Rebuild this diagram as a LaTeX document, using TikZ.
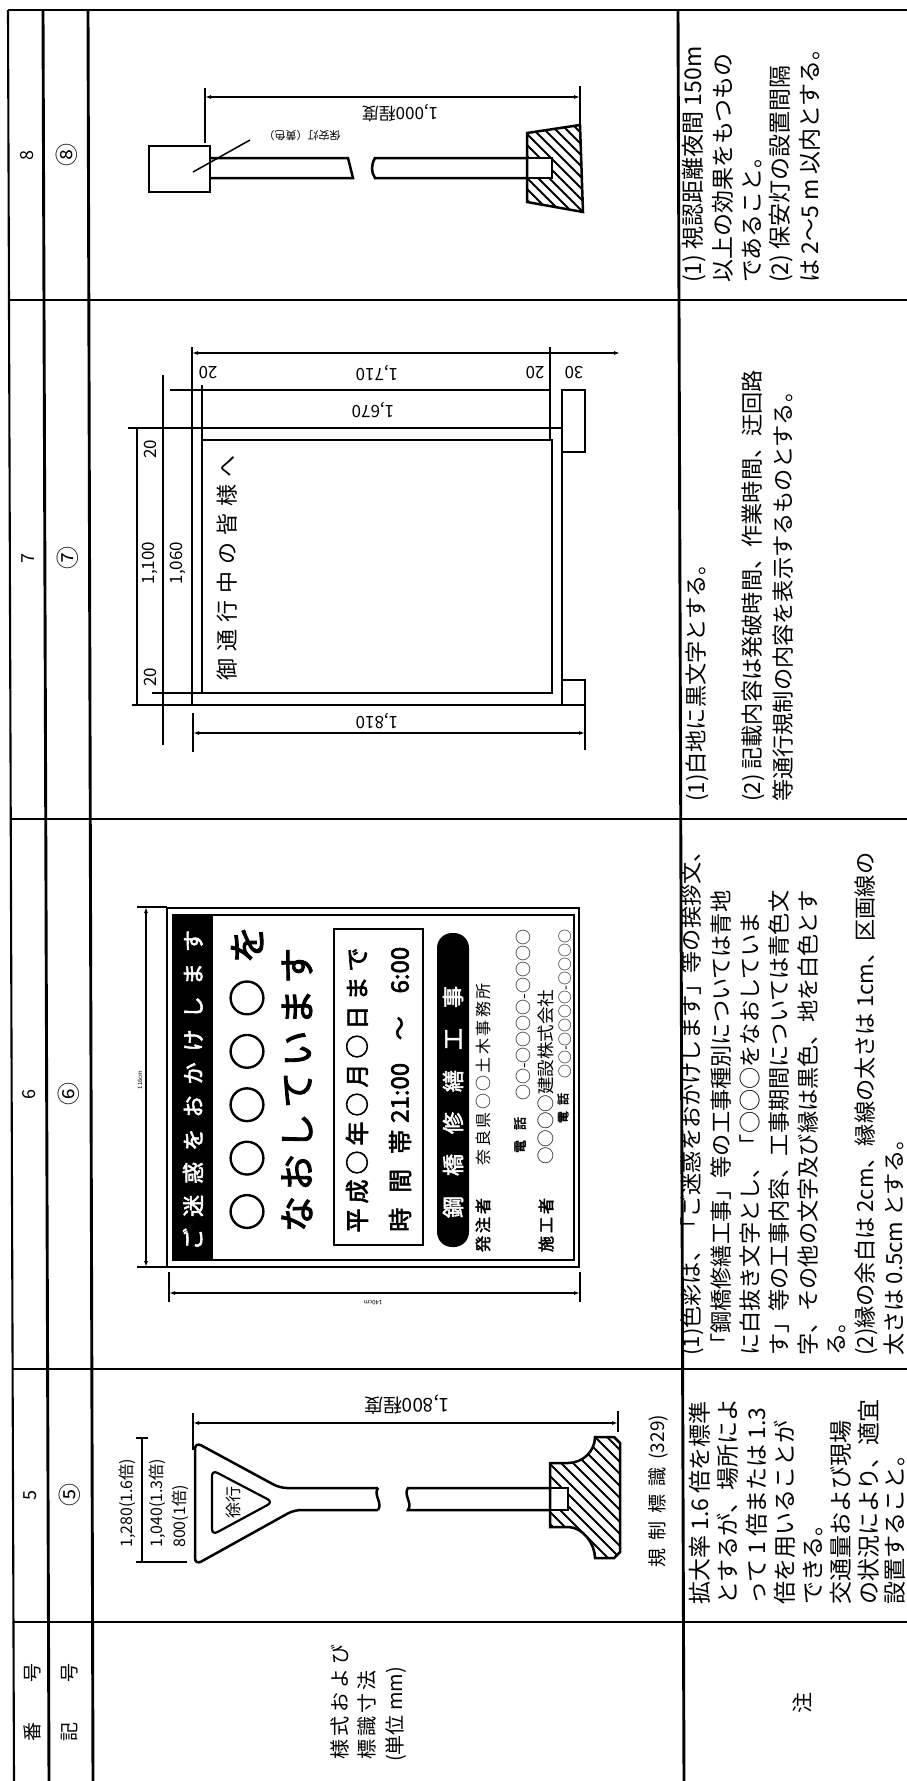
\documentclass[tikz,border=0pt]{standalone}
\usepackage{fontspec}
\setmainfont{Noto Sans CJK JP}
\newfontfamily\bj{Noto Sans CJK JP}[FakeBold=2.5]
\usetikzlibrary{arrows.meta}
\newcommand\fsz[1]{\fontsize{#1}{#1}\selectfont}
\newcommand\sprd[2]{\makebox[#1pt][s]{#2}}
\begin{document}
\begin{tikzpicture}[x=1pt,y=-1pt,
  grid/.style={line width=2.1pt},
  gridb/.style={line width=2.9pt},
  outl/.style={line width=2.5pt},
  dim/.style={line width=1.3pt},
  dimar/.style={line width=1.3pt,{Latex[length=6pt,width=4pt]}-{Latex[length=6pt,width=4pt]}},
  hatch/.style={line width=1.9pt},
  r90/.style={rotate=90,inner sep=0pt},
  r180/.style={rotate=180,inner sep=0pt},
  note/.style={rotate=90,inner sep=0pt,anchor=west,font=\fsz{23}},
  notec/.style={rotate=90,inner sep=0pt,anchor=west,font=\fsz{22.2}},
]
\useasboundingbox (0,0) rectangle (907,1781);
\clip (0,0) rectangle (907,1781);
\fill[white] (0,0) rectangle (907,1781);

% ---------------- grid ----------------
\draw[grid] (8,10) -- (907,10);
\draw[grid] (8,10) -- (14,1781);
\draw[gridb] (43,10) -- (49,1781);
\draw[gridb] (88,10) -- (93,1781);
\draw[gridb] (678,10) -- (684,1781);
\draw[grid] (9,300) -- (907,300);
\draw[grid] (10,819) -- (907,819);
\draw[grid] (12,1369) -- (907,1369);
\draw[grid] (13,1622) -- (907,1622);

% ---------------- header cells ----------------
\node[r90,font=\fsz{18}] (h8) at (27,155) {8};
\node[r90,font=\fsz{23}] (c8) at (67,155) {⑧};
\node[r90,font=\fsz{18}] (h7) at (28,558) {7};
\node[r90,font=\fsz{23}] (c7) at (68,558) {⑦};
\node[r90,font=\fsz{18}] (h6) at (29,1094) {6};
\node[r90,font=\fsz{23}] (c6) at (69,1094) {⑥};
\node[r90,font=\fsz{18}] (h5) at (30,1495) {5};
\node[r90,font=\fsz{23}] (c5) at (70,1495) {⑤};
\node[r90,font=\fsz{19}] (bango) at (32,1702) {\sprd{78}{番 号}};
\node[r90,font=\fsz{19}] (kigo) at (70,1702) {\sprd{78}{記 号}};
\node[r90,anchor=west,font=\fsz{20}] (yo1) at (340,1760) {\sprd{115}{様 式 お よ び}};
\node[r90,anchor=west,font=\fsz{20}] (yo2) at (367,1760) {\sprd{87}{標 識 寸 法}};
\node[r90,anchor=west,font=\fsz{20}] (yo3) at (396,1762) {(単位 mm)};
\node[r90,font=\fsz{21}] (chu) at (802,1703) {注};

% ---------------- notes ----------------
\node[note] (n8a) at (694,283) {(1) 視認距離夜間 150m};
\node[note] (n8b) at (723,283) {以上の効果をもつもの};
\node[note] (n8c) at (752,283) {であること。};
\node[note] (n8d) at (781,283) {(2) 保安灯の設置間隔};
\node[note] (n8e) at (810,283) {は 2～5 m 以内とする。};

\node[notec] (n7a) at (697,802) {(1)白地に黒文字とする。};
\node[notec] (n7b) at (753,802) {(2) 記載内容は発破時間、作業時間、迂回路};
\node[notec] (n7c) at (783,802) {等通行規制の内容を表示するものとする。};

\node[notec] (n6a) at (692,1356) {(1)色彩は、「ご迷惑をおかけします」等の挨拶文、};
\node[notec] (n6b) at (721,1356) {「鋼橋修繕工事」等の工事種別については青地};
\node[notec] (n6c) at (750,1356) {に白抜き文字とし、「○○○をなおしていま};
\node[notec] (n6d) at (779,1356) {す」等の工事内容、工事期間については青色文};
\node[notec] (n6e) at (808,1356) {字、その他の文字及び縁は黒色、地を白色とす};
\node[notec] (n6f) at (837,1356) {る。};
\node[notec] (n6g) at (866,1356) {(2)縁の余白は 2cm、縁線の太さは 1cm、区画線の};
\node[notec] (n6h) at (894,1356) {太さは 0.5cm とする。};

\node[note] (n5a) at (700,1605) {拡大率 1.6 倍を標準};
\node[note] (n5b) at (728,1605) {とするが、場所によ};
\node[note] (n5c) at (757,1605) {って 1 倍または 1.3};
\node[note] (n5d) at (785,1605) {倍を用いることが};
\node[note] (n5e) at (813,1605) {できる。};
\node[note] (n5f) at (841,1605) {交通量および現場};
\node[note] (n5g) at (869,1605) {の状況により、適宜};
\node[note] (n5h) at (895,1605) {設置すること。};

% ---------------- sign 8 ----------------
\draw[outl] (149,146) rectangle (210,192);
\draw[outl] (210,158) -- (348,158) -- (353,178) -- (210,178);
\draw[outl] (527,158) -- (375,158) .. controls (371,165) and (371,172) .. (375,178) -- (527,178);
\begin{scope}
  \clip (527,133) -- (580,125) -- (583,212) -- (527,202) -- cycle;
  \foreach \k in {405,416,...,570} \draw[hatch] (\k,100) -- ++(130,130);
\end{scope}
\fill[white] (527,158) rectangle (552,178);
\draw[outl] (527,158) -- (552,158) -- (552,178) -- (527,178);
\draw[outl] (527,133) -- (580,125) -- (583,212) -- (527,202) -- cycle;
\draw[dim] (205,88) -- (205,143);
\draw[dim] (580,86) -- (580,130);
\draw[dimar] (205,97) -- (580,97);
\node[r180,font=\fsz{17}] (d8) at (400,113) {1,000程度};
\draw[line width=1.5pt] (250,140) -- (193,172);
\node[r180,font=\fsz{11}] (lamp8) at (302,136) {保安灯（黄色）};

% ---------------- sign 7 ----------------
\draw[outl] (192,428) rectangle (562,705);
\draw[outl] (202,440) rectangle (552,693);
\draw[outl] (562,390) rectangle (585,452);
\draw[outl] (562,680) rectangle (585,705);
\node[r90,font=\fsz{22}] (s7) at (227,568) {\sprd{225}{御 通 行 中 の 皆 様 へ}};
% top dims
\draw[dim] (192,347) -- (192,428);
\draw[dim] (202,385) -- (202,440);
\draw[dim] (550,347) -- (550,440);
\draw[dimar] (192,353) -- (620,353);
\draw[dim] (170,390) -- (550,390);
\node[r180,font=\fsz{17}] (d7a) at (208,373) {20};
\node[r180,font=\fsz{17}] (d7b) at (377,373) {1,710};
\node[r180,font=\fsz{17}] (d7c) at (373,410) {1,670};
\node[r180,font=\fsz{17}] (d7d) at (535,373) {20};
\node[r180,font=\fsz{17}] (d7e) at (574,373) {30};
% left dims
\draw[dim] (128,428) -- (192,428);
\draw[dim] (132,705) -- (192,705);
\draw[dim] (152,693) -- (202,693);
\draw[dim] (137,428) -- (137,705);
\draw[line width=1.7pt] (163,375) -- (163,745);
\node[r90,font=\fsz{17}] (d7f) at (150,449) {20};
\node[r90,font=\fsz{17}] (d7g) at (150,563) {1,100};
\node[r90,font=\fsz{17}] (d7h) at (150,677) {20};
\node[r90,font=\fsz{17}] (d7i) at (178,563) {1,060};
% bottom dim
\draw[dim] (193,713) -- (193,752);
\draw[dim] (585,705) -- (585,750);
\draw[dimar] (193,733) -- (585,733);
\node[r180,font=\fsz{17}] (d7j) at (377,721) {1,810};

% ---------------- sign 6 ----------------
\draw[line width=2pt] (167,908) rectangle (579,1267);
\draw[line width=2.6pt] (173,915) rectangle (574,1260);
\fill[black] (173,915) rectangle (213,1260);
\node[r90,text=white,font={\bj\fsz{22}}] (s6a) at (193,1090) {\sprd{320}{ご 迷 惑 を お か け し ま す}};
\node[r90,font={\bj\fsz{38}}] (s6b) at (247,1078) {\sprd{305}{○ ○ ○ ○ ○ を}};
\node[r90,font={\bj\fsz{36}}] (s6c) at (297,1091) {\sprd{282}{な お し て い ま す}};
\draw[line width=2.6pt] (334,929) rectangle (423,1245);
\node[r90,font={\bj\fsz{24}}] (s6d) at (357,1090) {\sprd{285}{平 成 ○ 年 ○ 月 ○ 日 ま で}};
\node[r90,anchor=west,font={\bj\fsz{24}}] (s6e) at (400,1232) {\sprd{102}{時 間 帯}};
\node[r90,anchor=west,font={\bj\fsz{24}}] (s6f) at (400,1123) {\sprd{176}{21:00 ～ 6:00}};
\fill[black,rounded corners=15] (437,933) rectangle (469,1247);
\node[r90,text=white,font={\bj\fsz{22}}] (s6g) at (453,1102) {\sprd{232}{鋼 橋 修 繕 工 事}};
\node[r90,font={\bj\fsz{16}}] (s6h) at (483,1225) {\sprd{54}{発 注 者}};
\node[r90,font=\fsz{16}] (s6i) at (483,1081) {\sprd{168}{奈 良 県 ○ ○ 土 木 事 務 所}};
\node[r90,font={\bj\fsz{13}}] (s6j) at (520,1135) {\sprd{36}{電 話}};
\node[r90,font=\fsz{16}] (s6k) at (523,1015) {○○-○○○○-○○○○};
\node[r90,font={\bj\fsz{16}}] (s6l) at (546,1225) {\sprd{54}{施 工 者}};
\node[r90,font=\fsz{17.5}] (s6m) at (546,1077) {○○○○建設株式会社};
\node[r90,font={\bj\fsz{12}}] (s6n) at (563,1108) {\sprd{30}{電 話}};
\node[r90,font=\fsz{14}] (s6o) at (565,1004) {○○-○○○○-○○○○};
% dims
\draw[dim] (137,907) -- (167,907);
\draw[dim] (137,1267) -- (167,1267);
\draw[dimar] (146,907) -- (146,1267);
\node[r90,font=\fsz{6}] (d6a) at (140,1080) {116cm};
\draw[dim] (169,1272) -- (169,1302);
\draw[dim] (580,1272) -- (580,1302);
\draw[dimar] (169,1293) -- (580,1293);
\node[r180,font=\fsz{6}] (d6b) at (373,1303) {140cm};

% ---------------- sign 5 ----------------
\draw[outl,rounded corners=7] (378,1488) -- (280,1488) -- (195,1442) -- (195,1565) -- (294,1510) -- (378,1510);
\draw[line width=2.2pt,rounded corners=6] (212,1470) -- (273,1502) -- (212,1535) -- cycle;
\node[r90,font=\fsz{16}] (s5a) at (233,1502) {徐行};
\draw[outl] (378,1488) .. controls (373,1495) and (383,1503) .. (378,1510);
\draw[outl] (550,1488) -- (408,1488) .. controls (403,1495) and (413,1503) .. (408,1510) -- (550,1510);
\begin{scope}
  \clip (550,1463) -- (568,1463) .. controls (583,1463) and (595,1451) .. (595,1437) -- (614,1437) -- (620,1443) -- (620,1552) -- (614,1558) -- (595,1558) .. controls (595,1544) and (583,1527) .. (568,1527) -- (550,1527) -- cycle;
  \foreach \k in {390,402,...,590} \draw[hatch] (\k,1400) -- ++(200,200);
\end{scope}
\fill[white] (550,1488) rectangle (568,1510);
\draw[outl] (550,1488) -- (568,1488) -- (568,1510) -- (550,1510);
\draw[outl] (550,1463) -- (568,1463) .. controls (583,1463) and (595,1451) .. (595,1437) -- (614,1437) -- (620,1443) -- (620,1552) -- (614,1558) -- (595,1558) .. controls (595,1544) and (583,1527) .. (568,1527) -- (550,1527) -- cycle;
\draw[dim] (193,1413) -- (193,1450);
\draw[dim] (618,1411) -- (618,1432);
\draw[dimar] (193,1423) -- (618,1423);
\node[r180,font=\fsz{19}] (d5a) at (407,1405) {1,800程度};
\draw[line width=2.8pt] (142,1438) -- (142,1562);
\draw[dim] (136,1438) -- (148,1438);
\draw[dim] (136,1562) -- (187,1562);
\node[r90,anchor=west,font=\fsz{16}] (d5b) at (127,1548) {1,280(1.6倍)};
\node[r90,anchor=west,font=\fsz{16}] (d5c) at (157,1548) {1,040(1.3倍)};
\node[r90,anchor=west,font=\fsz{16}] (d5d) at (180,1548) {800(1倍)};
\node[r90,font=\fsz{19}] (s5b) at (658,1491) {\sprd{152}{規 制 標 識 (329)}};
\end{tikzpicture}
\end{document}
